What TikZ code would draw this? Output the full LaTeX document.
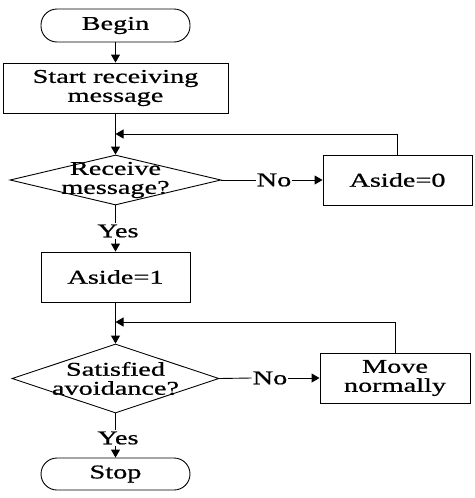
\documentclass[tikz,border=0pt]{standalone}
\usepackage{fontspec}
\setmainfont{Liberation Serif}[FakeStretch=1.45,FakeBold=0.8]
\usetikzlibrary{arrows.meta,shapes.geometric}
\tikzset{
  every node/.style={font=\fontsize{19.5}{19}\selectfont, align=center},
  box/.style={draw, line width=0.9pt, minimum width=#1, minimum height=50pt, inner sep=0pt},
  term/.style={draw, line width=0.9pt, rounded corners=16pt, minimum width=149pt, minimum height=#1, inner sep=0pt},
  dia/.style={draw, line width=0.9pt, diamond, inner sep=0pt},
  lbl/.style={inner sep=1pt},
  conn/.style={line width=0.9pt},
  arr/.style={conn, -{Triangle[length=8pt,width=9pt]}},
}
\begin{document}
\begin{tikzpicture}[x=1pt,y=-1pt]
\useasboundingbox (0,0) rectangle (474,498);
\node[term=33pt] (begin) at (115.5,25.5) {Begin};
\node[box=225pt] (start) at (115.5,88) {Start receiving\\message};
\node[dia, minimum width=211pt, minimum height=50pt] (d1) at (115.5,180) {};
\node (t1) at (115.5,180) {Receive\\message?};
\node[box=149pt] (a0) at (397.5,180) {Aside=0};
\node[lbl] (no1) at (274,180) {No};
\node[lbl] (yes1) at (118,231) {Yes};
\node[box=149pt] (a1) at (115.5,277) {Aside=1};
\node[dia, minimum width=207pt, minimum height=69pt] (d2) at (115.5,378.5) {};
\node (t2) at (115.5,378.5) {Satisfied\\avoidance?};
\node[box=150pt] (mv) at (395,378) {Move\\normally};
\node[lbl] (no2) at (270,378) {No};
\node[lbl] (yes2) at (118,438) {Yes};
\node[term=32pt] (stop) at (115.5,474) {Stop};
\coordinate (j1) at (115.5,134);
\coordinate (j2) at (115.5,322);
\draw[arr] (begin) -- (start);
\draw[arr] (start) -- (d1);
\draw[arr] (a0.north) |- (j1);
\draw[conn] (d1.east) -- (no1.west);
\draw[arr] (no1.east) -- (a0.west);
\draw[conn] (d1.south) -- (d1.south |- yes1.north);
\draw[arr] (a1.north |- yes1.south) -- (a1.north);
\draw[arr] (a1) -- (d2);
\draw[arr] (mv.north) |- (j2);
\draw[conn] (d2.east) -- (no2.west);
\draw[arr] (no2.east) -- (mv.west);
\draw[conn] (d2.south) -- (d2.south |- yes2.north);
\draw[arr] (stop.north |- yes2.south) -- (stop.north);
\end{tikzpicture}
\end{document}
